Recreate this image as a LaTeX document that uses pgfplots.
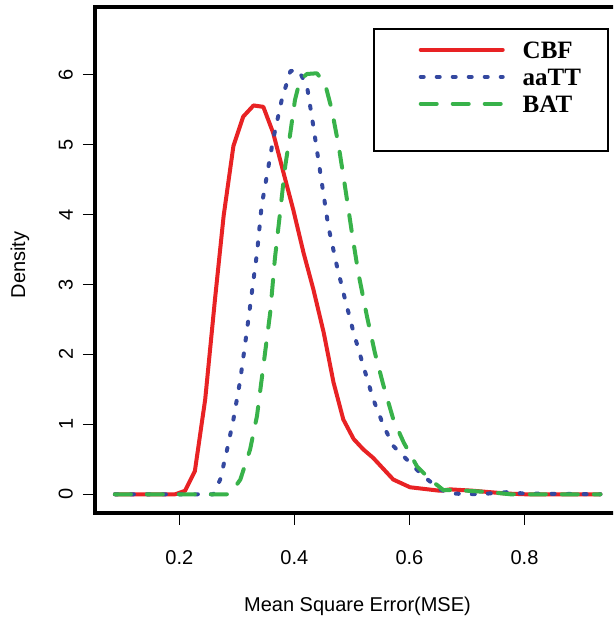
\documentclass[border=0pt]{standalone}
\usepackage{fontspec}
\setmainfont{Liberation Sans}
\newfontfamily\legendfont{Liberation Serif}
\usepackage{pgfplots}
\pgfplotsset{compat=1.18}

\definecolor{cbf}{RGB}{232,34,36}
\definecolor{aatt}{RGB}{52,72,160}
\definecolor{bat}{RGB}{56,178,74}

\begin{document}
\begin{tikzpicture}
\path[use as bounding box] (0pt,0pt) rectangle (613pt,620pt);
\clip (0pt,0pt) rectangle (613pt,620pt);
\begin{axis}[
  at={(95pt,107pt)}, anchor=south west,
  scale only axis, width=525pt, height=506pt,
  xmin=0.0534, xmax=0.966, ymin=-0.268, ymax=6.968,
  axis line style={line width=3.5pt},
  tick style={line width=1.5pt, black},
  major tick length=12pt,
  tick align=outside,
  tick pos=left,
  xtick={0.2,0.4,0.6,0.8},
  ytick={0,1,2,3,4,5,6},
  /pgf/number format/assume math mode=true,
  /pgf/number format/fixed,
  ticklabel style={font=\fontsize{20}{24}\selectfont, inner sep=0pt},
  xticklabel style={anchor=north},
  yticklabel style={rotate=90, anchor=south},
  xticklabel shift=25pt,
  yticklabel shift=10pt,
  xlabel={Mean Square Error(MSE)},
  ylabel={Density},
  label style={font=\fontsize{20}{24}\selectfont},
  xlabel style={at={([yshift=-93pt]rel axis cs:0.5,0)}, anchor=center},
  ylabel style={at={([xshift=-75pt]rel axis cs:0,0.49)}, anchor=center, rotate=0},
  legend style={at={(rel axis cs:0.529,0.958)}, anchor=north west,
    draw=black, line width=2pt,
    font=\legendfont\bfseries\fontsize{25}{27}\selectfont,
    inner xsep=27pt, inner ysep=12pt, row sep=10pt, column sep=18pt,
    nodes={inner sep=0pt, text height=17pt, text depth=0pt}},
  legend cell align=left,
  legend image code/.code={\draw[#1] (20pt,0pt) -- (102pt,0pt);},
]
\addplot[cbf, line width=4pt, line join=round, line cap=round] coordinates {
(0.088,0) (0.193,0) (0.210,0.05) (0.227,0.33) (0.245,1.36) (0.262,2.79)
(0.277,3.98) (0.294,4.98) (0.311,5.40) (0.329,5.56) (0.346,5.54) (0.363,5.17)
(0.381,4.60) (0.398,4.07) (0.416,3.45) (0.433,2.93) (0.451,2.31) (0.468,1.60)
(0.485,1.07) (0.503,0.79) (0.520,0.64) (0.537,0.52) (0.555,0.36) (0.572,0.21)
(0.601,0.10) (0.653,0.05) (0.671,0.07) (0.711,0.05) (0.769,0.01) (0.800,0)
(0.932,0)
};
\addlegendentry{CBF}
\addplot[aatt, line width=4pt, line join=round, line cap=round, dash pattern=on 3pt off 13pt] coordinates {
(0.088,0) (0.259,0) (0.271,0.21) (0.282,0.60) (0.294,1.07) (0.306,1.64)
(0.317,2.31) (0.326,2.88) (0.335,3.45) (0.343,4.12) (0.352,4.55) (0.363,5.07)
(0.378,5.64) (0.393,6.05) (0.407,6.07) (0.422,5.83) (0.433,5.26) (0.445,4.60)
(0.459,3.83) (0.474,3.26) (0.488,2.79) (0.503,2.31) (0.520,1.83) (0.537,1.36)
(0.555,0.98) (0.572,0.69) (0.595,0.50) (0.624,0.26) (0.653,0.07) (0.671,0.01)
(0.720,0) (0.770,0.03) (0.800,0.01) (0.932,0)
};
\addlegendentry{aaTT}
\addplot[bat, line width=4pt, line join=round, line cap=round, dash pattern=on 16pt off 16pt] coordinates {
(0.088,0) (0.288,0) (0.306,0.21) (0.323,0.64) (0.335,1.12) (0.346,1.83)
(0.358,2.60) (0.366,3.36) (0.375,4.02) (0.384,4.69) (0.393,5.17) (0.401,5.64)
(0.410,5.93) (0.422,6.01) (0.439,6.02) (0.453,5.88) (0.465,5.50) (0.477,4.98)
(0.488,4.40) (0.500,3.74) (0.511,3.17) (0.526,2.55) (0.540,2.02) (0.555,1.55)
(0.572,1.07) (0.590,0.74) (0.613,0.40) (0.636,0.21) (0.659,0.06) (0.682,0.06)
(0.740,0.03) (0.775,0) (0.932,0)
};
\addlegendentry{BAT}
\addlegendimage{empty legend}
\addlegendentry{}
\end{axis}
\end{tikzpicture}
\end{document}
